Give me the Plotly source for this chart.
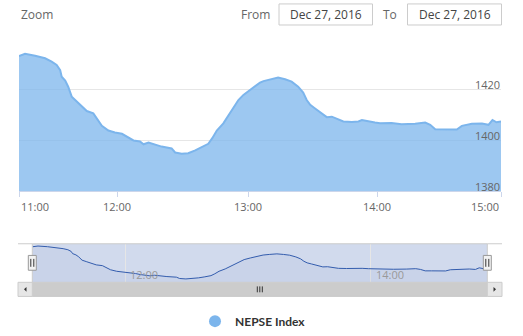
import plotly.graph_objects as go

# ---- data (ordinal sample position, NEPSE index value) ----
pos = [0.0, 1.2, 3.2, 4.2, 5.2, 6.5, 7.5, 8.2, 8.5, 9.2, 9.8, 10.5, 11.5, 12.5, 13.5, 14.8,
       15.5, 16.5, 17.8, 19.1, 20.5, 21.8, 22.8, 24.1, 24.8, 25.8, 27.1, 28.4, 30.4, 31.1,
       32.4, 33.7, 35.1, 36.4, 37.7, 38.5, 39.4, 40.7, 41.7, 42.7, 43.7, 44.7, 46.0, 47.3,
       48.0, 48.7, 50.0, 51.6, 53.0, 54.3, 55.6, 56.6, 57.3, 58.0, 58.9, 60.3, 61.3, 62.3,
       63.6, 64.6, 66.3, 67.6, 68.3, 69.6, 70.9, 71.9, 74.2, 76.2, 78.9, 80.9, 81.9, 82.9,
       84.2, 87.2, 88.2, 90.2, 92.2, 93.5, 94.3, 95.1, 96.0]
values = [1432.9, 1433.8, 1433.0, 1432.4, 1432.0, 1430.7, 1429.4, 1427.4, 1424.8, 1423.3,
          1420.9, 1417.0, 1415.1, 1413.1, 1411.4, 1410.5, 1408.6, 1405.6, 1403.8, 1403.0,
          1402.5, 1401.1, 1399.9, 1399.5, 1398.4, 1399.1, 1398.2, 1397.5, 1396.8, 1395.2,
          1394.7, 1394.9, 1396.0, 1397.2, 1398.6, 1400.8, 1403.8, 1406.6, 1409.5, 1412.9,
          1415.7, 1417.7, 1419.6, 1421.2, 1422.5, 1423.1, 1423.8, 1424.5, 1423.8, 1422.9,
          1420.9, 1418.6, 1415.7, 1413.8, 1412.5, 1410.5, 1409.0, 1409.2, 1408.2, 1407.3,
          1407.1, 1407.3, 1407.9, 1407.3, 1406.9, 1406.6, 1406.7, 1406.2, 1406.4, 1406.9,
          1406.0, 1404.3, 1404.3, 1404.2, 1405.6, 1406.4, 1406.5, 1406.0, 1407.9, 1407.0,
          1407.3]
tick_pos = [0.0, 19.6, 45.7, 71.4, 96.0]
tick_labels = ["11:00", "12:00", "13:00", "14:00", "15:00"]
y_ticks = [1380, 1400, 1420, 1440]
y_tick_labels = ["1380", "1400", "1420", ""]
series_name = "NEPSE Index"
date_from = "Dec 27, 2016"
date_to = "Dec 27, 2016"

W, H = 523, 336
FONT = "Open Sans"


def px(x):
    return x / W


def py(y):
    return 1 - y / H


fig = go.Figure()

# main area series
fig.add_trace(go.Scatter(
    x=pos, y=values, mode="lines", fill="tozeroy",
    line=dict(color="#7cb5ec", width=2),
    fillcolor="rgba(124,181,236,0.75)",
    xaxis="x", yaxis="y", showlegend=False, hoverinfo="skip"))

# navigator series
fig.add_trace(go.Scatter(
    x=pos, y=values, mode="lines", fill="tozeroy",
    line=dict(color="#335cad", width=1),
    fillcolor="rgba(51,92,173,0.05)",
    xaxis="x2", yaxis="y2", showlegend=False, hoverinfo="skip"))

# legend entry
fig.add_trace(go.Scatter(
    x=[None], y=[None], mode="markers", name="<b>" + series_name + "</b>",
    marker=dict(color="#7cb5ec", size=12, symbol="circle"),
    xaxis="x", yaxis="y", showlegend=True))

main_top, main_bot = 38.3, 193.7
nav_top, nav_bot = 246.7, 285.7
nav_l, nav_r = 32.3, 487.3

fig.update_layout(
    width=W, height=H,
    margin=dict(l=0, r=0, t=0, b=0),
    paper_bgcolor="white", plot_bgcolor="rgba(0,0,0,0)",
    font=dict(family=FONT, size=11, color="#666666"),
    xaxis=dict(domain=[px(19), px(501)], range=[0, 96], anchor="y",
               tickvals=tick_pos, ticktext=["" for _ in tick_pos],
               ticks="outside", ticklen=5, tickcolor="#ccd6eb", tickwidth=1,
               showgrid=False, zeroline=False, showline=True,
               linecolor="#ccd6eb", linewidth=1, fixedrange=True),
    yaxis=dict(domain=[py(main_bot), py(main_top)], range=[1380, 1440], anchor="x",
               side="right", tickvals=y_ticks, showticklabels=False, ticks="",
               showgrid=True, gridcolor="#e6e6e6", gridwidth=1,
               zeroline=False, showline=False, fixedrange=True),
    xaxis2=dict(domain=[px(nav_l), px(nav_r)], range=[0, 96], anchor="y2",
                tickvals=[tick_pos[1], tick_pos[3]], ticktext=["", ""],
                showgrid=True, gridcolor="#e6e6e6", ticks="",
                zeroline=False, showline=False, fixedrange=True),
    yaxis2=dict(domain=[py(nav_bot), py(nav_top)], range=[1390.7, 1436.5], anchor="x2",
                showgrid=False, showticklabels=False, ticks="",
                zeroline=False, showline=False, fixedrange=True),
    legend=dict(orientation="h", x=px(253), y=py(325), xanchor="center", yanchor="middle",
                font=dict(family="Lato", size=12, color="#333333"),
                bgcolor="rgba(0,0,0,0)", itemsizing="trace"),
)

shapes = []
annotations = []

# y tick labels (right side, inside the plot, just above each gridline)
for yv, yl in zip(y_ticks, y_tick_labels):
    if yl:
        annotations.append(dict(x=px(501), y=yv, xref="paper", yref="y", text=yl,
                                showarrow=False, xanchor="right", yanchor="bottom",
                                xshift=1, yshift=-5,
                                font=dict(family=FONT, size=11, color="#666666")))

# x tick labels on main axis
for i, (tp, tl) in enumerate(zip(tick_pos, tick_labels)):
    anchor = "left" if i == 0 else ("right" if i == len(tick_pos) - 1 else "center")
    annotations.append(dict(x=tp, y=py(209), xref="x", yref="paper", text=tl,
                            showarrow=False, xanchor=anchor, yanchor="middle",
                            font=dict(family=FONT, size=11, color="#666666")))

# navigator labels
for tp, tl in [(tick_pos[1], tick_labels[1]), (tick_pos[3], tick_labels[3])]:
    annotations.append(dict(x=tp, y=py(278), xref="x2", yref="paper", text=tl,
                            showarrow=False, xanchor="left", yanchor="middle", xshift=3,
                            font=dict(family=FONT, size=11, color="#999999")))

# navigator mask and outline
shapes.append(dict(type="rect", xref="paper", yref="paper",
                   x0=px(nav_l), x1=px(nav_r), y0=py(nav_bot), y1=py(nav_top),
                   fillcolor="rgba(102,133,194,0.3)", line=dict(width=0), layer="between"))
shapes.append(dict(type="path", xref="paper", yref="paper",
                   path=f"M {px(18)} {py(nav_top)} L {px(nav_l)} {py(nav_top)} L {px(nav_l)} {py(nav_bot)} "
                        f"M {px(nav_l)} {py(nav_top)} L {px(nav_r)} {py(nav_top)} "
                        f"M {px(nav_r)} {py(nav_bot)} L {px(nav_r)} {py(nav_top)} L {px(502)} {py(nav_top)}",
                   line=dict(color="#cccccc", width=1), layer="above"))

# scrollbar
sb_top, sb_bot = 285.7, 300.0
shapes.append(dict(type="rect", xref="paper", yref="paper",
                   x0=px(18), x1=px(502), y0=py(sb_bot), y1=py(sb_top),
                   fillcolor="#f2f2f2", line=dict(width=0)))
shapes.append(dict(type="rect", xref="paper", yref="paper",
                   x0=px(nav_l), x1=px(nav_r), y0=py(sb_bot), y1=py(sb_top),
                   fillcolor="#cccccc", line=dict(color="#cccccc", width=1)))
for bx0, bx1 in [(18, nav_l), (nav_r, 502)]:
    shapes.append(dict(type="rect", xref="paper", yref="paper",
                       x0=px(bx0), x1=px(bx1), y0=py(sb_bot), y1=py(sb_top),
                       fillcolor="#e6e6e6", line=dict(color="#cccccc", width=1)))
cy = (sb_top + sb_bot) / 2
shapes.append(dict(type="path", xref="paper", yref="paper",
                   path=f"M {px(24)} {py(cy)} L {px(26.5)} {py(cy - 2.5)} L {px(26.5)} {py(cy + 2.5)} Z",
                   fillcolor="#333333", line=dict(width=0)))
shapes.append(dict(type="path", xref="paper", yref="paper",
                   path=f"M {px(496)} {py(cy)} L {px(493.5)} {py(cy - 2.5)} L {px(493.5)} {py(cy + 2.5)} Z",
                   fillcolor="#333333", line=dict(width=0)))
gx = (nav_l + nav_r) / 2
for dx in (-2.5, 0, 2.5):
    shapes.append(dict(type="line", xref="paper", yref="paper",
                       x0=px(gx + dx), x1=px(gx + dx), y0=py(cy - 3), y1=py(cy + 3),
                       line=dict(color="#333333", width=1)))

# navigator handles
for hx in (nav_l, nav_r):
    shapes.append(dict(type="rect", xref="paper", yref="paper",
                       x0=px(hx - 4), x1=px(hx + 4), y0=py(273.5), y1=py(258.5),
                       fillcolor="#f2f2f2", line=dict(color="#999999", width=1), layer="above"))
    for dx in (-1.5, 1.5):
        shapes.append(dict(type="line", xref="paper", yref="paper",
                           x0=px(hx + dx), x1=px(hx + dx), y0=py(270), y1=py(262),
                           line=dict(color="#333333", width=1), layer="above"))

# header: range selector
annotations.append(dict(x=px(19), y=py(15), xref="paper", yref="paper", text="Zoom",
                        showarrow=False, xanchor="left", yanchor="middle",
                        font=dict(family=FONT, size=12, color="#666666")))
annotations.append(dict(x=px(272), y=py(15), xref="paper", yref="paper", text="From",
                        showarrow=False, xanchor="right", yanchor="middle",
                        font=dict(family=FONT, size=12, color="#666666")))
annotations.append(dict(x=px(399), y=py(15), xref="paper", yref="paper", text="To",
                        showarrow=False, xanchor="right", yanchor="middle",
                        font=dict(family=FONT, size=12, color="#666666")))
for (bx0, bx1), txt in [((279, 372.5), date_from), ((407.5, 501.5), date_to)]:
    shapes.append(dict(type="rect", xref="paper", yref="paper",
                       x0=px(bx0), x1=px(bx1), y0=py(25.3), y1=py(4),
                       fillcolor="white", line=dict(color="#cccccc", width=1)))
    annotations.append(dict(x=px((bx0 + bx1) / 2), y=py(15), xref="paper", yref="paper",
                            text=txt, showarrow=False, xanchor="center", yanchor="middle",
                            font=dict(family=FONT, size=12, color="#444444")))

fig.update_layout(shapes=shapes, annotations=annotations)
fig.write_html("out.html")
